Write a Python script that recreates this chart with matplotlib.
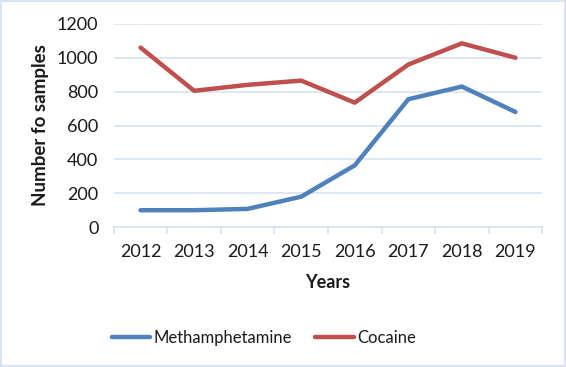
import matplotlib
matplotlib.use("Agg")
import matplotlib.pyplot as plt
from matplotlib.patches import Rectangle

years = ["2012", "2013", "2014", "2015", "2016", "2017", "2018", "2019"]
meth = [100, 100, 108, 180, 365, 755, 830, 680]
cocaine = [1060, 805, 840, 865, 735, 960, 1085, 1000]

BLUE = "#4f81bd"
RED = "#c0504d"
GRID = "#d9e3f1"
TEXT = "#1a1a1a"
FONT = ["Lato", "DejaVu Sans"]

plt.rcParams["font.family"] = FONT

fig = plt.figure(figsize=(5.66, 3.67), dpi=100)
ax = fig.add_axes([0.201, 0.381, 0.757, 0.554])

x = range(len(years))
ax.plot(x, meth, color=BLUE, linewidth=3.2, solid_capstyle="round", label="Methamphetamine")
ax.plot(x, cocaine, color=RED, linewidth=3.2, solid_capstyle="round", label="Cocaine")

ax.set_xlim(-0.5, len(years) - 0.5)
ax.set_ylim(0, 1200)
ax.set_yticks(range(0, 1201, 200))
ax.set_xticks(list(x))
ax.set_xticklabels(years)
ax.set_xticks([i - 0.5 for i in range(len(years) + 1)], minor=True)

ax.grid(axis="y", color=GRID, linewidth=1.2)
ax.set_axisbelow(True)
for side in ["top", "right", "left"]:
    ax.spines[side].set_visible(False)
ax.spines["bottom"].set_color(GRID)
ax.spines["bottom"].set_linewidth(1.2)

ax.tick_params(axis="y", length=0, labelsize=13, colors=TEXT, pad=11)
ax.tick_params(axis="x", which="major", length=0, labelsize=13, colors=TEXT, pad=12)
ax.tick_params(axis="x", which="minor", length=5, color=GRID, width=1.2)

ax.set_xlabel("Years", fontsize=13, fontweight="bold", color=TEXT, labelpad=10)
ax.set_ylabel("Number fo samples", fontsize=13.5, fontweight="bold", color=TEXT, labelpad=6)

leg = ax.legend(loc="upper center", bbox_to_anchor=(0.35, -0.43), ncol=2, frameon=False,
                fontsize=12, handlelength=2.3, handletextpad=0.2, columnspacing=1.4,
                labelcolor=TEXT)

fig.patches.append(Rectangle((0.002, 0.003), 0.996, 0.994, transform=fig.transFigure,
                             fill=False, edgecolor=GRID, linewidth=1.5))

fig.savefig("out.png", dpi=100, facecolor="white")
